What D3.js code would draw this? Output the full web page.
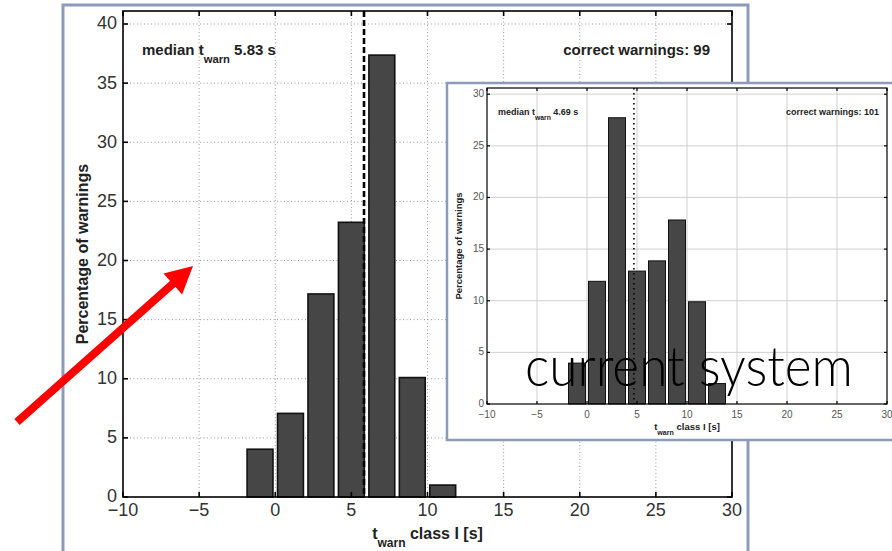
<!DOCTYPE html>
<html>
<head>
<meta charset="utf-8">
<script src="https://cdn.jsdelivr.net/npm/d3@7"></script>
<style>
  html, body { margin: 0; padding: 0; background: #fff; }
  svg { display: block; }
</style>
</head>
<body>
<svg id="chart" width="892" height="551"></svg>
<script>
// histogram bins are 2 s wide, values are percentages of correct warnings
var mainCenters = [-1, 1, 3, 5, 7, 9, 11];
var mainPercent = [4.04, 7.07, 17.17, 23.23, 37.37, 10.10, 1.01];
var mainMedian = 5.83;
var mainCorrect = 99;
var mainYTicks = [0, 5, 10, 15, 20, 25, 30, 35, 40];

var insetCenters = [-1, 1, 3, 5, 7, 9, 11, 13];
var insetPercent = [3.96, 11.88, 27.72, 12.87, 13.86, 17.82, 9.90, 1.98];
var insetMedian = 4.69;
var insetCorrect = 101;
var insetYTicks = [0, 5, 10, 15, 20, 25, 30];

var xTicks = [-10, -5, 0, 5, 10, 15, 20, 25, 30];
var xTickLabels = ['\u221210', '\u22125', '0', '5', '10', '15', '20', '25', '30'];

var frameColor = '#8c9bba';
var font = '"Liberation Sans", Arial, Helvetica, sans-serif';

var svg = d3.select('#chart');

function histogram(g, o) {
    var x = d3.scaleLinear().domain([-10, 30]).range([o.left, o.right]);
    var y = d3.scaleLinear().domain([0, o.yMax]).range([o.bottom, o.top]);

    // grid
    g.append('g').selectAll('line.vg')
        .data(xTicks.slice(1, -1))
        .join('line')
        .attr('x1', d => x(d)).attr('x2', d => x(d))
        .attr('y1', o.top).attr('y2', o.bottom)
        .attr('stroke', o.gridColor)
        .attr('stroke-width', 1)
        .attr('stroke-dasharray', o.gridDash);

    g.append('g').selectAll('line.hg')
        .data(o.yTicks.slice(1))
        .join('line')
        .attr('x1', o.left).attr('x2', o.right)
        .attr('y1', d => y(d)).attr('y2', d => y(d))
        .attr('stroke', o.gridColor)
        .attr('stroke-width', 1)
        .attr('stroke-dasharray', o.gridDash);

    // bars
    g.append('g').selectAll('rect')
        .data(o.centers)
        .join('rect')
        .attr('x', d => x(d - 0.85))
        .attr('width', d => x(d + 0.85) - x(d - 0.85))
        .attr('y', (d, i) => y(o.values[i]))
        .attr('height', (d, i) => y(0) - y(o.values[i]))
        .attr('fill', '#464646')
        .attr('stroke', '#111')
        .attr('stroke-width', o.barStroke);

    // median line
    g.append('line')
        .attr('x1', x(o.median)).attr('x2', x(o.median))
        .attr('y1', o.top).attr('y2', o.bottom)
        .attr('stroke', '#000')
        .attr('stroke-width', o.medianWidth)
        .attr('stroke-dasharray', o.medianDash);

    // box
    g.append('rect')
        .attr('x', o.left).attr('y', o.top)
        .attr('width', o.right - o.left).attr('height', o.bottom - o.top)
        .attr('fill', 'none')
        .attr('stroke', '#000')
        .attr('stroke-width', o.axisWidth);

    // ticks, inward on all four sides
    var t = o.tickLen;
    xTicks.forEach(function(d) {
        g.append('line').attr('x1', x(d)).attr('x2', x(d))
            .attr('y1', o.bottom).attr('y2', o.bottom - t)
            .attr('stroke', '#000').attr('stroke-width', o.axisWidth);
        g.append('line').attr('x1', x(d)).attr('x2', x(d))
            .attr('y1', o.top).attr('y2', o.top + t)
            .attr('stroke', '#000').attr('stroke-width', o.axisWidth);
    });
    o.yTicks.forEach(function(d) {
        g.append('line').attr('x1', o.left).attr('x2', o.left + t)
            .attr('y1', y(d)).attr('y2', y(d))
            .attr('stroke', '#000').attr('stroke-width', o.axisWidth);
        g.append('line').attr('x1', o.right).attr('x2', o.right - t)
            .attr('y1', y(d)).attr('y2', y(d))
            .attr('stroke', '#000').attr('stroke-width', o.axisWidth);
    });

    // tick labels
    g.append('g').selectAll('text')
        .data(xTicks)
        .join('text')
        .attr('x', d => x(d))
        .attr('y', o.bottom + o.xLabelOffset)
        .attr('text-anchor', 'middle')
        .attr('font-family', font)
        .attr('font-size', o.tickSize)
        .attr('fill', o.tickColor)
        .text((d, i) => xTickLabels[i]);

    g.append('g').selectAll('text')
        .data(o.yTicks)
        .join('text')
        .attr('x', o.left - o.yLabelOffset)
        .attr('y', d => y(d) + o.tickSize * 0.3)
        .attr('text-anchor', 'end')
        .attr('font-family', font)
        .attr('font-size', o.tickSize)
        .attr('fill', o.tickColor)
        .text(d => d);

    // axis titles
    var xl = g.append('text')
        .attr('x', (o.left + o.right) / 2)
        .attr('y', o.xTitleY)
        .attr('text-anchor', 'middle')
        .attr('font-family', font)
        .attr('font-weight', 'bold')
        .attr('font-size', o.titleSize)
        .attr('fill', '#222');
    xl.append('tspan').text('t');
    xl.append('tspan').attr('dy', o.titleSize * 0.5).attr('font-size', o.titleSize * 0.75).text('warn');
    xl.append('tspan').attr('dy', -o.titleSize * 0.5).text(' class I [s]');

    g.append('text')
        .attr('transform', 'translate(' + o.yTitleX + ',' + ((o.top + o.bottom) / 2) + ') rotate(-90)')
        .attr('text-anchor', 'middle')
        .attr('font-family', font)
        .attr('font-weight', 'bold')
        .attr('font-size', o.titleSize)
        .attr('fill', '#222')
        .text('Percentage of warnings');

    // annotations inside the axes
    var med = g.append('text')
        .attr('x', o.left + o.noteInset)
        .attr('y', o.noteY)
        .attr('font-family', font)
        .attr('font-weight', 'bold')
        .attr('font-size', o.noteSize)
        .attr('fill', '#222');
    med.append('tspan').text('median t');
    med.append('tspan').attr('dy', o.noteSize * 0.55).attr('font-size', o.noteSize * 0.75).text('warn');
    med.append('tspan').attr('dy', -o.noteSize * 0.55).text(' ' + o.median.toFixed(2) + ' s');

    g.append('text')
        .attr('x', o.right - o.noteRight)
        .attr('y', o.noteY)
        .attr('text-anchor', 'end')
        .attr('font-family', font)
        .attr('font-weight', 'bold')
        .attr('font-size', o.noteSize)
        .attr('fill', '#222')
        .text('correct warnings: ' + o.correct);
}

// main slide frame
svg.append('rect')
    .attr('x', 63).attr('y', 5)
    .attr('width', 685).attr('height', 570)
    .attr('fill', '#fff')
    .attr('stroke', frameColor)
    .attr('stroke-width', 3);

histogram(svg.append('g'), {
    left: 123, right: 732, top: 11, bottom: 497, yMax: 41.1,
    centers: mainCenters, values: mainPercent, yTicks: mainYTicks,
    median: mainMedian, correct: mainCorrect,
    gridColor: '#9a9a9a', gridDash: '1,2.5',
    barStroke: 1.6, medianWidth: 2.6, medianDash: '6,3',
    axisWidth: 1.6, tickLen: 5,
    tickSize: 18, tickColor: '#333', xLabelOffset: 19, yLabelOffset: 6,
    titleSize: 16, xTitleY: 539, yTitleX: 88,
    noteSize: 15, noteY: 55, noteInset: 19, noteRight: 22
});

// inset frame
svg.append('rect')
    .attr('x', 447).attr('y', 83)
    .attr('width', 470).attr('height', 357)
    .attr('fill', '#fff')
    .attr('stroke', frameColor)
    .attr('stroke-width', 2.5);

histogram(svg.append('g'), {
    left: 487, right: 887, top: 88, bottom: 404, yMax: 30.6,
    centers: insetCenters, values: insetPercent, yTicks: insetYTicks,
    median: insetMedian, correct: insetCorrect,
    gridColor: '#cfcfcf', gridDash: null,
    barStroke: 1, medianWidth: 1.6, medianDash: '1.5,3.5',
    axisWidth: 1.2, tickLen: 3,
    tickSize: 10, tickColor: '#555', xLabelOffset: 14, yLabelOffset: 3,
    titleSize: 9.5, xTitleY: 430, yTitleX: 462,
    noteSize: 9, noteY: 115, noteInset: 11, noteRight: 8
});

svg.append('text')
    .attr('x', 525)
    .attr('y', 386)
    .attr('font-family', 'Lato, "Open Sans", sans-serif')
    .attr('font-weight', 300)
    .attr('font-size', 55)
    .attr('textLength', 328)
    .attr('lengthAdjust', 'spacingAndGlyphs')
    .attr('fill', '#000')
    .text('current system');

// red arrow pointing into the main plot
var tail = [17, 422], tip = [193, 266];
var dx = tip[0] - tail[0], dy = tip[1] - tail[1];
var len = Math.sqrt(dx * dx + dy * dy);
var ux = dx / len, uy = dy / len;
var headLen = 27, headHalf = 14;
var base = [tip[0] - ux * headLen, tip[1] - uy * headLen];

svg.append('line')
    .attr('x1', tail[0]).attr('y1', tail[1])
    .attr('x2', base[0] + ux * 2).attr('y2', base[1] + uy * 2)
    .attr('stroke', '#ff0000')
    .attr('stroke-width', 8);

svg.append('polygon')
    .attr('points', [
        tip,
        [base[0] - uy * headHalf, base[1] + ux * headHalf],
        [base[0] + uy * headHalf, base[1] - ux * headHalf]
    ].map(p => p.join(',')).join(' '))
    .attr('fill', '#ff0000');
</script>
</body>
</html>
